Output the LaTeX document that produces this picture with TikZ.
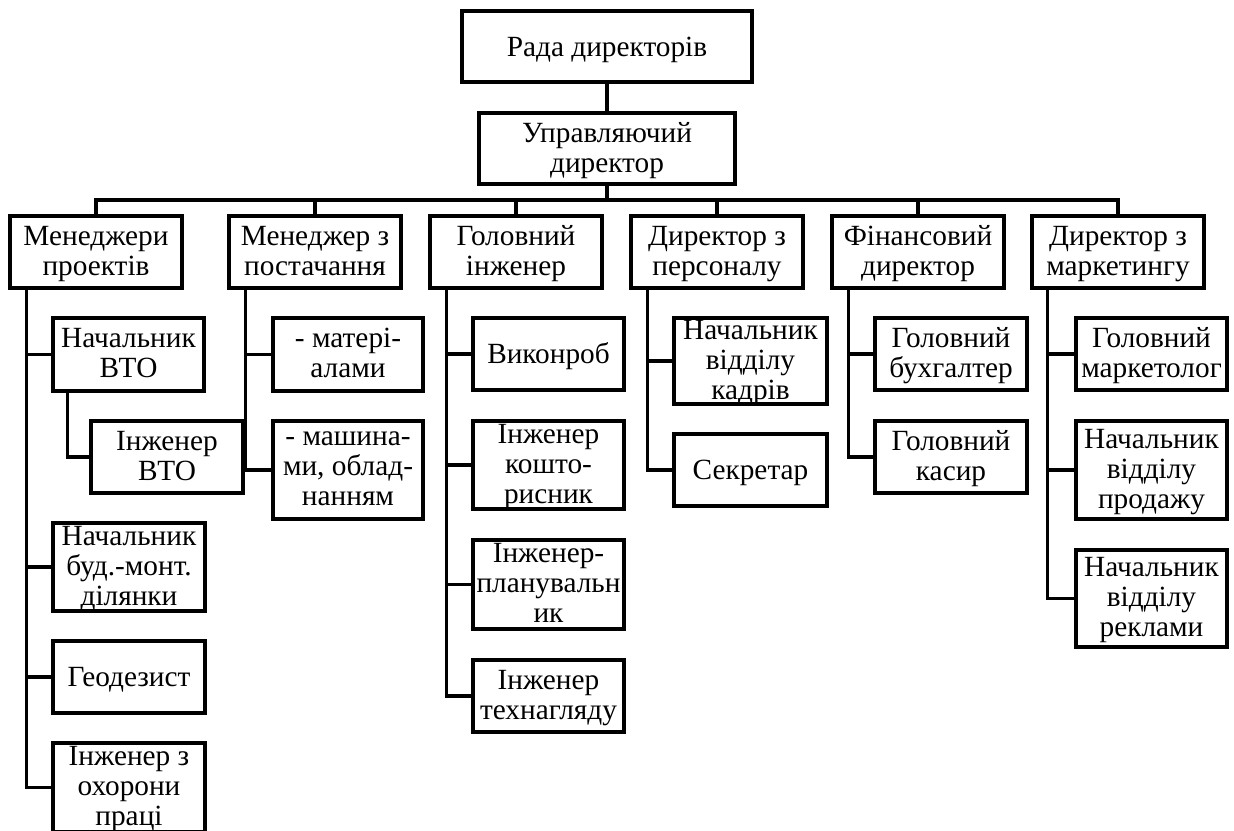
\documentclass[tikz,border=0pt]{standalone}
\usepackage{fontspec}
\setmainfont{Liberation Serif}
\begin{document}
\begin{tikzpicture}[x=1pt,y=-1pt,
  box/.style={draw, line width=3.2pt, inner sep=0pt},
  lab/.style={inner sep=0pt, align=center, yshift=-2pt,
    font=\fontsize{29.3}{30}\selectfont,
    execute at begin node={\rule{0pt}{22pt}},
    execute at end node={\rule[-7pt]{0pt}{7pt}}},
  t/.style={label={[lab]center:{#1}}},
  link/.style={line width=3.2pt}]
\useasboundingbox (0,0) rectangle (1234,830);
% top
\node[box, minimum width=290pt, minimum height=71pt, t={Рада директорів}] (rada) at (607,46.5) {};
\node[box, minimum width=256pt, minimum height=71pt, t={Управляючий\\директор}] (upr) at (607,148.5) {};
\coordinate (bus) at (607,200);
% level 1
\node[box, minimum width=172pt, minimum height=72pt, t={Менеджери\\проектів}] (p1) at (96,252) {};
\node[box, minimum width=172pt, minimum height=72pt, t={Менеджер з\\постачання}] (p2) at (315,252) {};
\node[box, minimum width=172pt, minimum height=72pt, t={Головний\\інженер}] (p3) at (516,252) {};
\node[box, minimum width=172pt, minimum height=72pt, t={Директор з\\персоналу}] (p4) at (717,252) {};
\node[box, minimum width=172pt, minimum height=72pt, t={Фінансовий\\директор}] (p5) at (918,252) {};
\node[box, minimum width=172pt, minimum height=72pt, t={Директор з\\маркетингу}] (p6) at (1118,252) {};
% column 1
\node[box, minimum width=151pt, minimum height=73pt, t={Начальник\\ВТО}] (nvto) at (128.5,354.5) {};
\node[box, minimum width=152pt, minimum height=72pt, t={Інженер\\ВТО}] (ivto) at (167,457) {};
\node[box, minimum width=152pt, minimum height=88pt, t={Начальник\\буд.-монт.\\ділянки}] (nbm) at (129,567) {};
\node[box, minimum width=152pt, minimum height=72pt, t={Геодезист}] (geo) at (129,677) {};
\node[box, minimum width=152pt, minimum height=89pt, t={Інженер з\\охорони\\праці}] (ioh) at (129,787.5) {};
% column 2
\node[box, minimum width=150pt, minimum height=73pt, t={- матері-\\алами}] (mat) at (348,354.5) {};
\node[box, minimum width=150pt, minimum height=98pt, t={- машина-\\ми, облад-\\нанням}] (mash) at (348,470) {};
% column 3
\node[box, minimum width=151pt, minimum height=72pt, t={Виконроб}] (vyk) at (548.5,354) {};
\node[box, minimum width=151pt, minimum height=88pt, t={Інженер\\кошто-\\рисник}] (kosh) at (548.5,465) {};
\node[box, minimum width=151pt, minimum height=89pt, t={Інженер-\\планувальн\\ик}] (plan) at (548.5,584.5) {};
\node[box, minimum width=151pt, minimum height=72pt, t={Інженер\\технагляду}] (tekh) at (548.5,696) {};
% column 4
\node[box, minimum width=153pt, minimum height=86pt, t={Начальник\\відділу\\кадрів}] (kadr) at (750.5,361) {};
\node[box, minimum width=153pt, minimum height=72pt, t={Секретар}] (sekr) at (750.5,470) {};
% column 5
\node[box, minimum width=152pt, minimum height=72pt, t={Головний\\бухгалтер}] (buh) at (951,354) {};
\node[box, minimum width=152pt, minimum height=72pt, t={Головний\\касир}] (kas) at (951,457) {};
% column 6
\node[box, minimum width=151pt, minimum height=72pt, t={Головний\\маркетолог}] (mkt) at (1151.5,354) {};
\node[box, minimum width=151pt, minimum height=98pt, t={Начальник\\відділу\\продажу}] (prod) at (1151.5,470) {};
\node[box, minimum width=151pt, minimum height=97pt, t={Начальник\\відділу\\реклами}] (rekl) at (1151.5,598.5) {};
% connectors top
\draw[link] (rada) -- (upr);
\draw[link] (upr) -- (bus);
\draw[link] (p1.north) |- (p6.north |- bus) -- (p6.north);
\foreach \n in {p2,p3,p4,p5} \draw[link] (\n.north) -- (\n.north |- bus);
% trunks
\foreach \c in {nvto,nbm,geo,ioh} \draw[link] ([xshift=18pt]p1.south west) |- (\c.west);
\draw[link] ([xshift=16pt]nvto.south west) |- (ivto.west);
\foreach \c in {mat,mash} \draw[link] ([xshift=18pt]p2.south west) |- (\c.west);
\foreach \c in {vyk,kosh,plan,tekh} \draw[link] ([xshift=18pt]p3.south west) |- (\c.west);
\foreach \c in {kadr,sekr} \draw[link] ([xshift=18pt]p4.south west) |- (\c.west);
\foreach \c in {buh,kas} \draw[link] ([xshift=18pt]p5.south west) |- (\c.west);
\foreach \c in {mkt,prod,rekl} \draw[link] ([xshift=17pt]p6.south west) |- (\c.west);
\end{tikzpicture}
\end{document}
